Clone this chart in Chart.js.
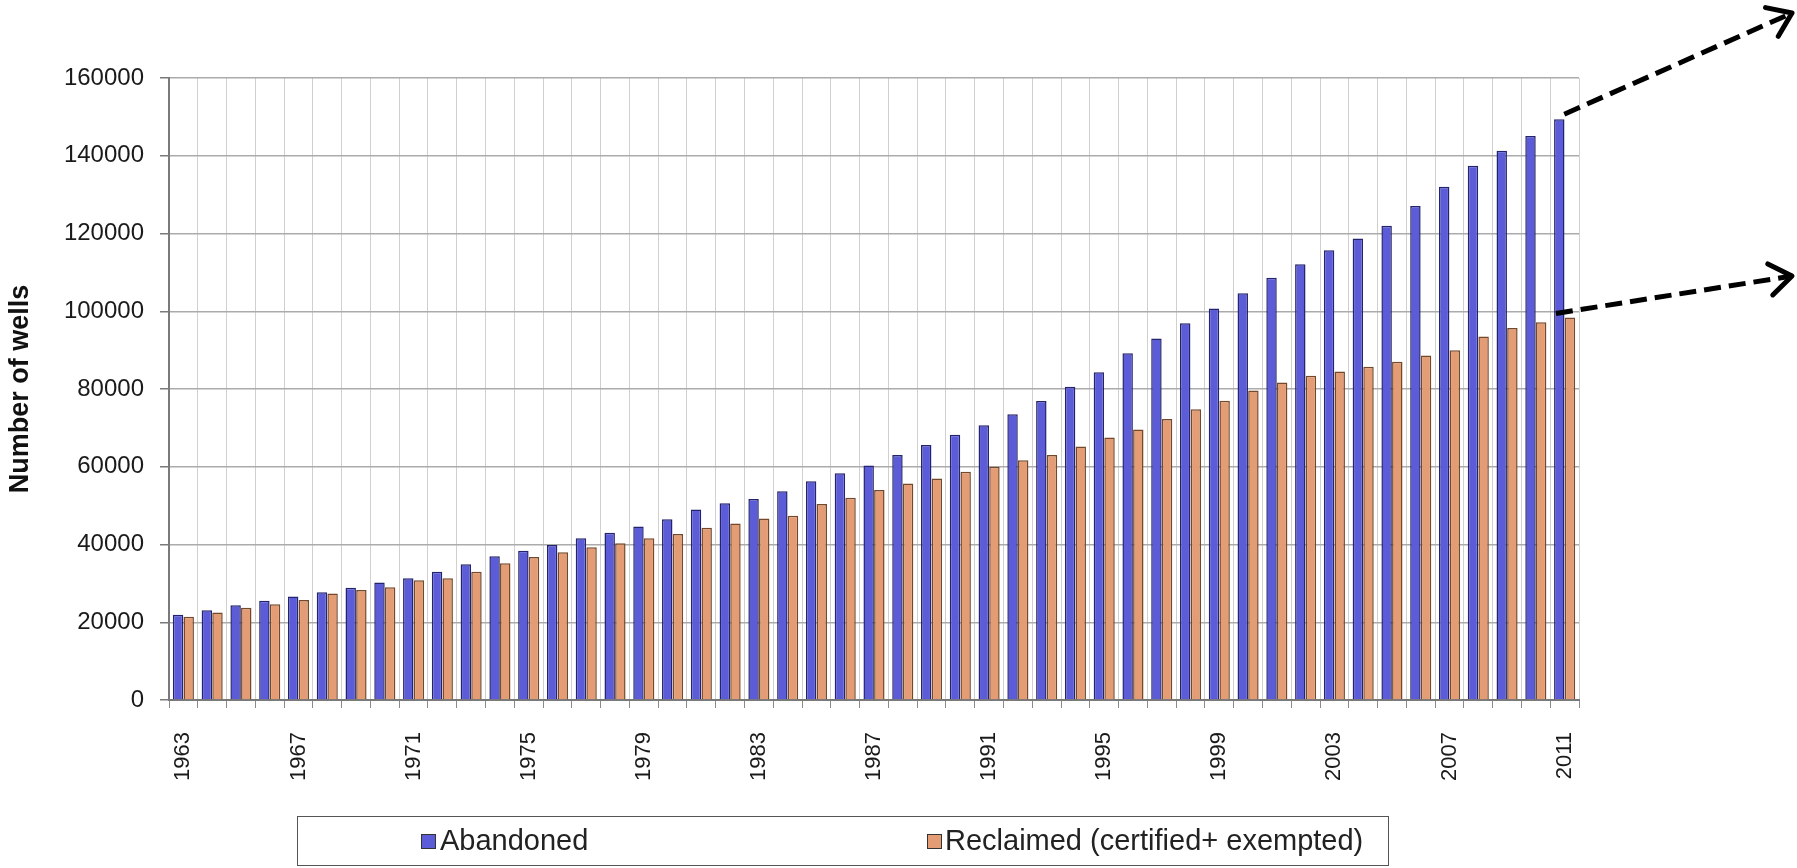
<!DOCTYPE html>
<html lang="en">
<head>
    <meta charset="UTF-8">
    <title>Number of wells</title>
    <style>
        body { margin: 0; background: #fff; }
        .wrap { position: relative; width: 1797px; height: 868px; overflow: hidden; }
        .legend {
            position: absolute;
            left: 297px;
            top: 816px;
            width: 1092px;
            height: 50px;
            border: 1.5px solid #555;
            box-sizing: border-box;
            font-family: Arial, "Liberation Sans", sans-serif;
            font-size: 29px;
            color: #222;
        }
        .legend span { position: absolute; top: 7px; }
        .legend i {
            position: absolute;
            top: 17px;
            width: 15px;
            height: 15px;
            box-sizing: border-box;
            border: 1px solid #333;
        }
    </style>
</head>
<body>
    <div class="wrap">
        <canvas id="chart1" width="1797" height="868"></canvas>
        <div class="legend">
            <i style="left:123px;background:#5c5cd8"></i><span style="left:142px">Abandoned</span>
            <i style="left:629px;background:#e39c74"></i><span style="left:647px">Reclaimed (certified+ exempted)</span>
        </div>
    </div>
    <script src="https://cdn.jsdelivr.net/npm/chart.js@4/dist/chart.umd.min.js"></script>
    <script>
        // 연도 (1963 ~ 2011)
        const years = [];
        for (let y = 1963; y <= 2011; y++) years.push(String(y));

        // 누적 폐쇄 유정 수
        const abandoned = [
            21900, 23100, 24400, 25500, 26600, 27700, 28900, 30200, 31300, 33000,
            34900, 37000, 38400, 39900, 41600, 43000, 44600, 46500, 49000, 50600,
            51700, 53700, 56300, 58300, 60300, 63000, 65600, 68200, 70700, 73500,
            76900, 80600, 84300, 89200, 93000, 96900, 100700, 104600, 108600, 112100,
            115700, 118700, 122000, 127100, 132000, 137400, 141300, 145100, 149400
        ];
        // 복구 완료 유정 수 (certified + exempted)
        const reclaimed = [
            21400, 22500, 23700, 24600, 25700, 27400, 28300, 29000, 30800, 31300,
            33000, 35200, 36800, 38000, 39300, 40300, 41600, 42700, 44300, 45400,
            46700, 47400, 50400, 52000, 54000, 55700, 57000, 58700, 60000, 61700,
            63000, 65200, 67500, 69600, 72300, 74800, 77000, 79600, 81700, 83400,
            84500, 85700, 87000, 88600, 90000, 93500, 95700, 97200, 98400
        ];

        const yTicks = { min: 0, max: 160000, step: 20000 };

        // 마지막 막대에서 오른쪽 위로 나가는 점선 화살표
        function drawArrow(ctx, x1, y1, x2, y2) {
            ctx.save();
            ctx.strokeStyle = '#000';
            ctx.lineWidth = 5;
            ctx.setLineDash([17, 8]);
            ctx.beginPath();
            ctx.moveTo(x1, y1);
            ctx.lineTo(x2, y2);
            ctx.stroke();
            ctx.setLineDash([]);
            const ang = Math.atan2(y2 - y1, x2 - x1);
            const len = 27;
            ctx.lineCap = 'round';
            ctx.lineJoin = 'round';
            ctx.beginPath();
            ctx.moveTo(x2 - len * Math.cos(ang - 0.62), y2 - len * Math.sin(ang - 0.62));
            ctx.lineTo(x2, y2);
            ctx.lineTo(x2 - len * Math.cos(ang + 0.62), y2 - len * Math.sin(ang + 0.62));
            ctx.stroke();
            ctx.restore();
        }

        const arrowPlugin = {
            id: 'arrows',
            afterDraw(chart) {
                const last = years.length - 1;
                const a = chart.getDatasetMeta(0).data[last];
                const r = chart.getDatasetMeta(1).data[last];
                drawArrow(chart.ctx, a.x + 5, a.y - 5, 1792, 13);
                drawArrow(chart.ctx, r.x - 14, r.y - 4, 1792, 276);
            }
        };

        new Chart(chart1, {
            type: 'bar',
            data: {
                labels: years,
                datasets: [
                    {
                        label: 'Abandoned',
                        data: abandoned,
                        backgroundColor: '#5c5cd8',
                        borderColor: '#24246e',
                        borderWidth: 1.5,
                        categoryPercentage: 0.74,
                        barPercentage: 0.98
                    },
                    {
                        label: 'Reclaimed (certified+ exempted)',
                        data: reclaimed,
                        backgroundColor: '#e39c74',
                        borderColor: '#74482a',
                        borderWidth: 1.5,
                        categoryPercentage: 0.74,
                        barPercentage: 0.98
                    }
                ]
            },
            options: {
                responsive: false,
                animation: false,
                devicePixelRatio: 1,
                layout: { padding: { top: 78, right: 218, left: 0, bottom: 0 } },
                plugins: {
                    legend: { display: false },
                    tooltip: { enabled: false }
                },
                scales: {
                    x: {
                        afterFit: (s) => { s.height = 168; },
                        grid: { color: '#d0d0d0', lineWidth: 1, tickLength: 8, tickColor: '#8a8a8a' },
                        border: { color: '#7a7a7a', width: 2 },
                        ticks: {
                            autoSkip: false,
                            minRotation: 90,
                            maxRotation: 90,
                            padding: 24,
                            color: '#1a1a1a',
                            font: { family: 'Arial, "Liberation Sans", sans-serif', size: 22 },
                            callback: function (v, i) {
                                return i % 4 === 0 ? this.getLabelForValue(v) : '';
                            }
                        }
                    },
                    y: {
                        min: yTicks.min,
                        max: yTicks.max,
                        afterFit: (s) => { s.width = 169; },
                        grid: { color: '#ababab', lineWidth: 1.5, tickLength: 9, tickColor: '#7a7a7a' },
                        border: { color: '#7a7a7a', width: 2 },
                        ticks: {
                            stepSize: yTicks.step,
                            padding: 16,
                            color: '#1a1a1a',
                            font: { family: 'Arial, "Liberation Sans", sans-serif', size: 24 },
                            callback: (v) => String(v)
                        },
                        title: {
                            display: true,
                            text: 'Number of wells',
                            color: '#111',
                            padding: { top: 4, bottom: 0 },
                            font: { family: 'Arial, "Liberation Sans", sans-serif', size: 27, weight: 'bold' }
                        }
                    }
                }
            },
            plugins: [arrowPlugin]
        });
    </script>
</body>
</html>
